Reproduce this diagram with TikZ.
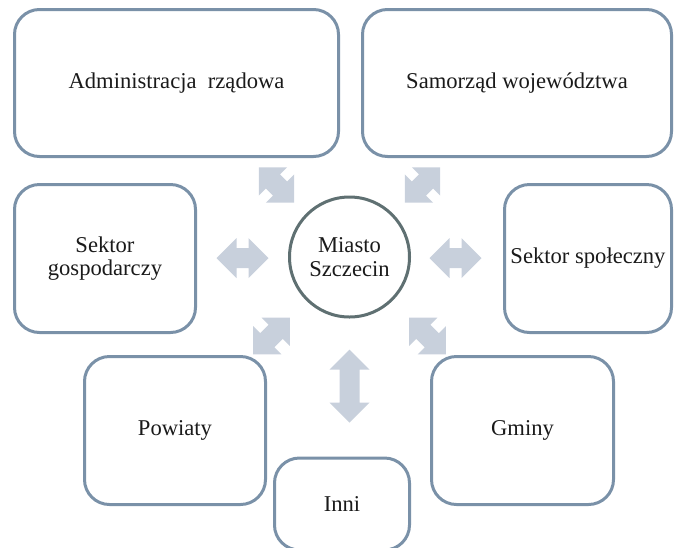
\documentclass[tikz,border=0pt]{standalone}
\usepackage{fontspec}
\setmainfont{Liberation Serif}
\usepackage{tikz}
\usetikzlibrary{calc}
\definecolor{ramka}{RGB}{122,145,168}
\definecolor{okrag}{RGB}{95,112,114}
\definecolor{strzalka}{RGB}{200,208,220}
\definecolor{tekst}{RGB}{26,26,26}
\tikzset{org box/.style={draw=ramka, line width=3pt, rectangle, rounded corners=25pt, align=center, inner sep=0pt}}
\tikzset{city circle/.style={draw=okrag, line width=3pt, circle, minimum size=120pt, align=center, inner sep=0pt}}
\tikzset{pics/link arrow/.style={code={
  \fill[strzalka] ({-#1/2},0) -- ({-#1/2+20},20) -- ({-#1/2+20},10) -- ({#1/2-20},10) -- ({#1/2-20},20)
    -- ({#1/2},0) -- ({#1/2-20},-20) -- ({#1/2-20},-10) -- ({-#1/2+20},-10) -- ({-#1/2+20},-20) -- cycle;
}}}

\begin{document}
\begin{tikzpicture}[x=1pt, y=-1pt, font=\fontsize{22.6}{23.5}\selectfont, text=tekst]
\clip (0,0) rectangle (674,547);
\node[city circle] (miasto) at (349.5,257) {Miasto\\Szczecin};
\node[org box, minimum width=324pt, minimum height=147pt] (admin) at (176.5,83) {Administracja\ \ rządowa};
\node[org box, minimum width=309pt, minimum height=147pt] (samorzad) at (517,83) {Samorząd województwa};
\node[org box, minimum width=167pt, minimum height=148pt] (spol) at (588,258.5) {Sektor społeczny};
\node[org box, minimum width=181pt, minimum height=148pt] (gosp) at (105,258.5) {Sektor\\gospodarczy};
\node[org box, minimum width=181pt, minimum height=148pt] (powiaty) at (175,430.5) {Powiaty};
\node[org box, minimum width=182pt, minimum height=148pt] (gminy) at (522.5,430.5) {Gminy};
\node[org box, minimum width=135pt, minimum height=92pt] (inni) at (342,504) {Inni};
% strzalki wokol miasta
\pic[rotate=-45] (s-admin) at ($(miasto)+(-73,-72)$) {link arrow=50};
\pic[rotate=45] (s-samorzad) at ($(miasto)+(73,-72)$) {link arrow=50};
\pic (s-gosp) at ($(miasto)+(-107,1)$) {link arrow=52};
\pic (s-spol) at ($(miasto)+(106,1)$) {link arrow=52};
\pic[rotate=45] (s-powiaty) at ($(miasto)+(-78,79)$) {link arrow=52};
\pic[rotate=-45] (s-gminy) at ($(miasto)+(78,79)$) {link arrow=52};
\pic[rotate=90] (s-inni) at ($(miasto)+(0,129)$) {link arrow=73};
\end{tikzpicture}
\end{document}
